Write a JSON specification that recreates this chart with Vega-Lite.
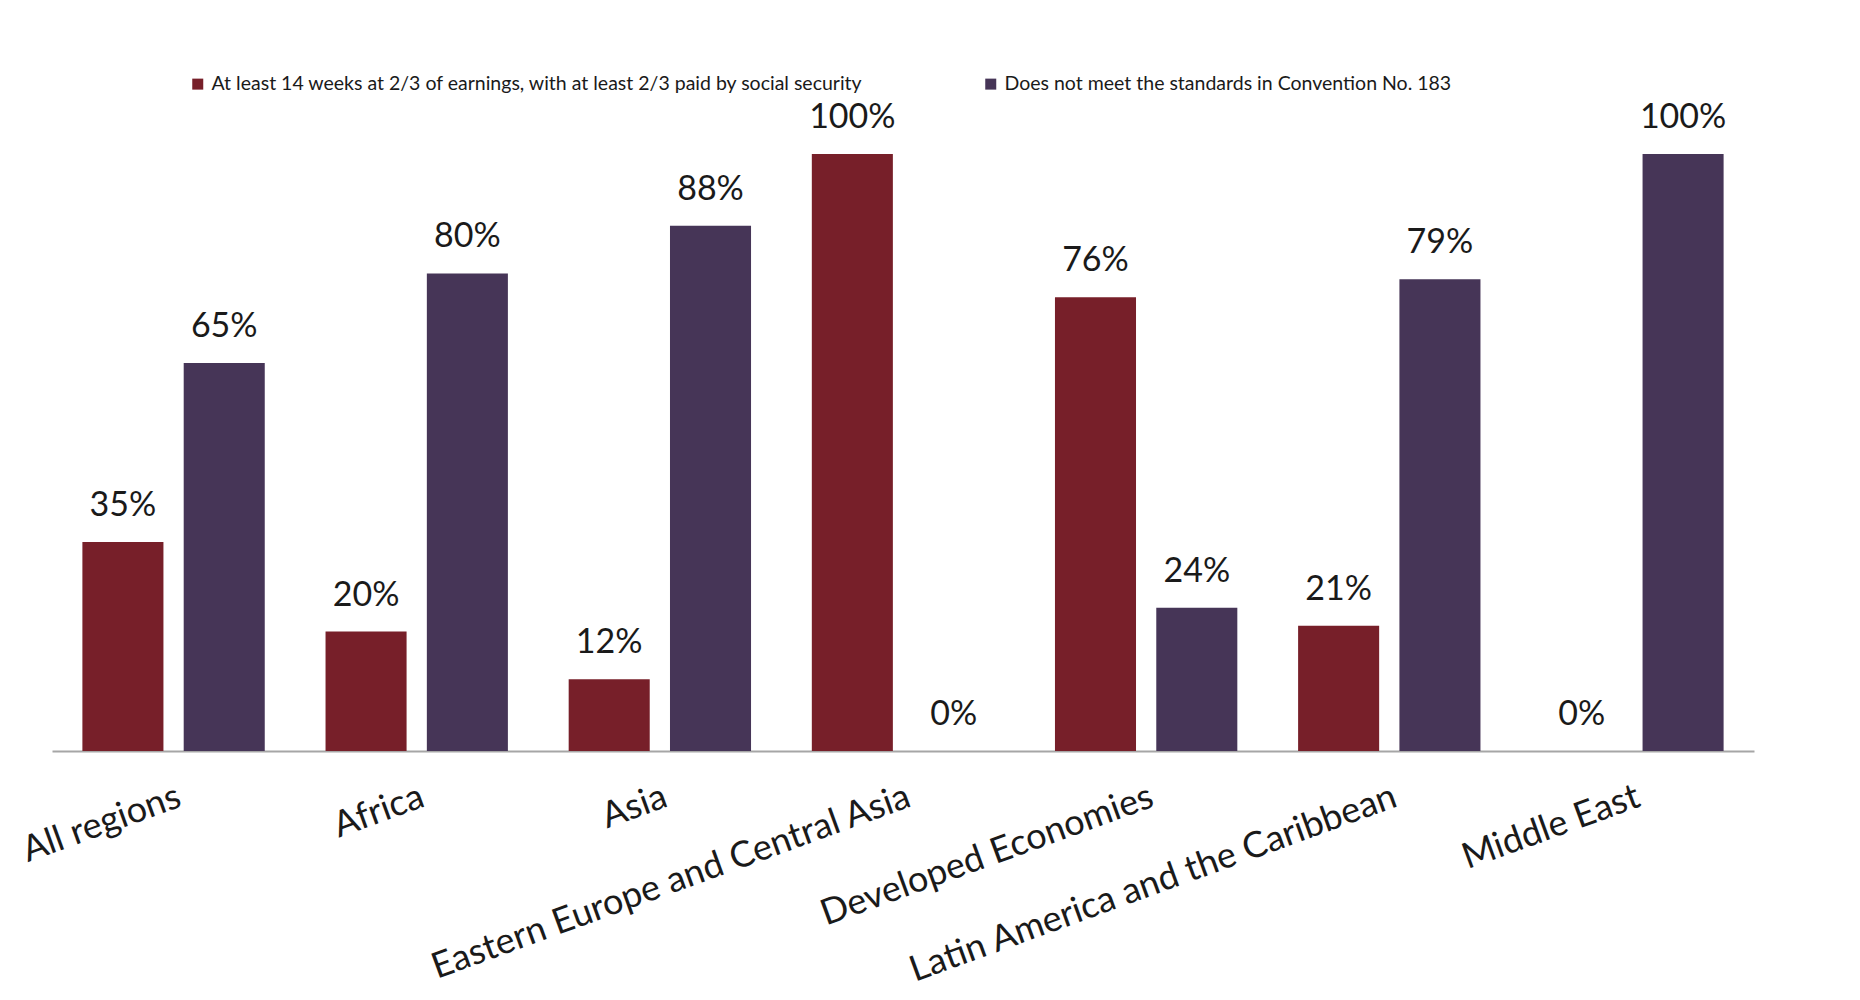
{
  "$schema": "https://vega.github.io/schema/vega-lite/v6.json",
  "width": 1702,
  "height": 597,
  "autosize": {"type": "none"},
  "padding": {"left": 52, "top": 154, "right": 106, "bottom": 249},
  "background": "white",
  "config": {"view": {"stroke": null}, "font": "Lato"},
  "data": {
    "values": [
      {"region": "All regions", "series": "At least 14 weeks at 2/3 of earnings, with at least 2/3 paid by social security", "value": 0.35},
      {"region": "All regions", "series": "Does not meet the standards in Convention No. 183", "value": 0.65},
      {"region": "Africa", "series": "At least 14 weeks at 2/3 of earnings, with at least 2/3 paid by social security", "value": 0.20},
      {"region": "Africa", "series": "Does not meet the standards in Convention No. 183", "value": 0.80},
      {"region": "Asia", "series": "At least 14 weeks at 2/3 of earnings, with at least 2/3 paid by social security", "value": 0.12},
      {"region": "Asia", "series": "Does not meet the standards in Convention No. 183", "value": 0.88},
      {"region": "Eastern Europe and Central Asia", "series": "At least 14 weeks at 2/3 of earnings, with at least 2/3 paid by social security", "value": 1.00},
      {"region": "Eastern Europe and Central Asia", "series": "Does not meet the standards in Convention No. 183", "value": 0.00},
      {"region": "Developed Economies", "series": "At least 14 weeks at 2/3 of earnings, with at least 2/3 paid by social security", "value": 0.76},
      {"region": "Developed Economies", "series": "Does not meet the standards in Convention No. 183", "value": 0.24},
      {"region": "Latin America and the Caribbean", "series": "At least 14 weeks at 2/3 of earnings, with at least 2/3 paid by social security", "value": 0.21},
      {"region": "Latin America and the Caribbean", "series": "Does not meet the standards in Convention No. 183", "value": 0.79},
      {"region": "Middle East", "series": "At least 14 weeks at 2/3 of earnings, with at least 2/3 paid by social security", "value": 0.00},
      {"region": "Middle East", "series": "Does not meet the standards in Convention No. 183", "value": 1.00}
    ]
  },
  "encoding": {
    "x": {
      "field": "region",
      "type": "nominal",
      "sort": null,
      "scale": {"paddingInner": 0.25, "paddingOuter": 0.125},
      "axis": {
        "title": null,
        "labelAngle": -20,
        "labelAlign": "right",
        "labelBaseline": "top",
        "labelFontSize": 36,
        "labelFont": "Lato",
        "labelColor": "#1a1a1a",
        "ticks": false,
        "domainColor": "#a6a6a6",
        "domainWidth": 2,
        "labelPadding": 28,
        "labelLimit": 0
      }
    },
    "xOffset": {
      "field": "series",
      "type": "nominal",
      "sort": null,
      "scale": {"paddingInner": 0.2, "paddingOuter": 0}
    },
    "y": {
      "field": "value",
      "type": "quantitative",
      "scale": {"domain": [0, 1]},
      "axis": null
    }
  },
  "layer": [
    {
      "mark": {"type": "bar"},
      "encoding": {
        "color": {
          "field": "series",
          "type": "nominal",
          "scale": {
            "domain": [
              "At least 14 weeks at 2/3 of earnings, with at least 2/3 paid by social security",
              "Does not meet the standards in Convention No. 183"
            ],
            "range": ["#771F29", "#463557"]
          },
          "legend": {
            "title": null,
            "orient": "none",
            "legendX": 136,
            "legendY": -80,
            "direction": "horizontal",
            "symbolType": "square",
            "symbolSize": 121,
            "symbolStrokeWidth": 0,
            "labelFontSize": 19.5,
            "labelFont": "Lato",
            "labelColor": "#1a1a1a",
            "labelLimit": 0,
            "labelOffset": 4,
            "columnPadding": 117
          }
        }
      }
    },
    {
      "mark": {"type": "text", "baseline": "bottom", "dy": -19, "fontSize": 34, "font": "Lato", "color": "#1a1a1a"},
      "encoding": {
        "text": {"field": "value", "type": "quantitative", "format": ".0%"}
      }
    }
  ]
}
